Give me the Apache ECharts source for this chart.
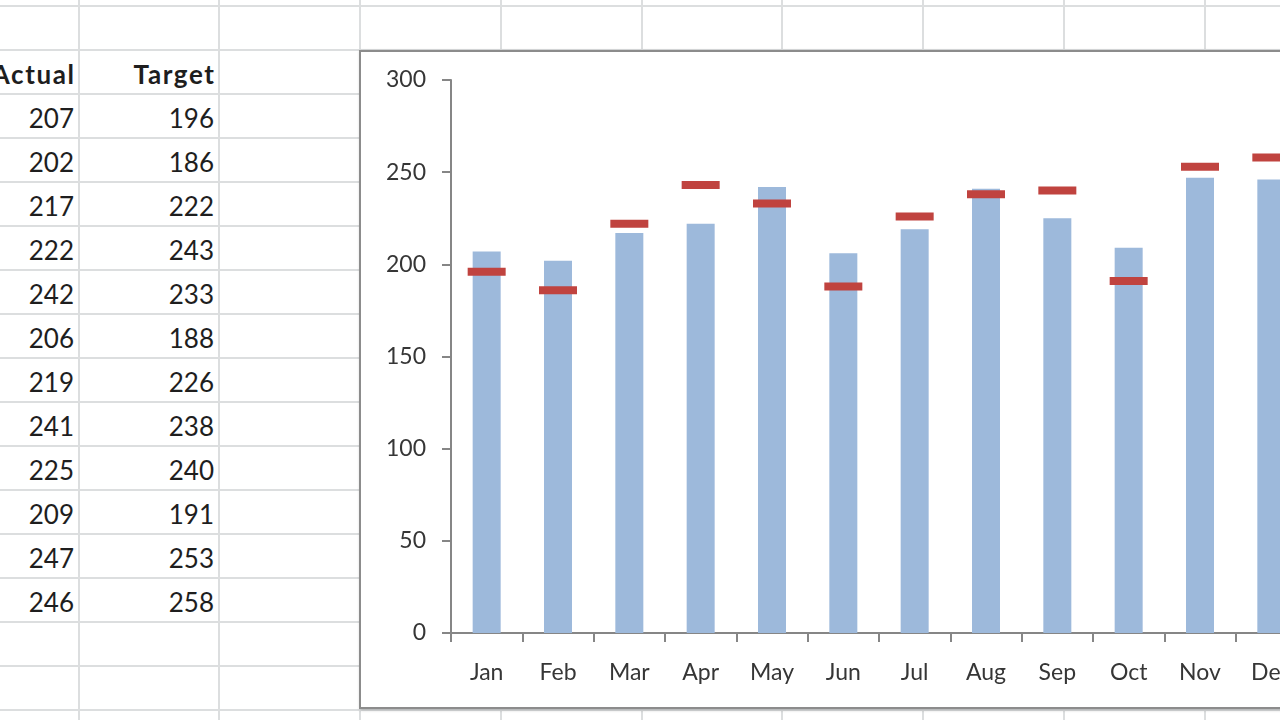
<!DOCTYPE html>
<html><head><meta charset="utf-8">
<script src="https://cdn.jsdelivr.net/npm/echarts@6/dist/echarts.min.js"></script>
<style>
html,body{margin:0;padding:0;width:1280px;height:720px;overflow:hidden;background:#fff;font-family:Lato,"Open Sans",sans-serif;}
#sheet{position:absolute;left:0;top:0;width:1280px;height:720px;overflow:hidden;}
.vl{position:absolute;top:0;height:720px;width:2px;background:#dcdedf;}
.hl{position:absolute;left:0;width:1280px;height:2px;background:#dcdedf;}
.cell{position:absolute;font-size:26px;color:#1e1e1e;text-align:right;line-height:44px;height:44px;white-space:nowrap;}
.hdr{font-weight:bold;letter-spacing:1.6px;margin-right:-1.6px;}
#chartBox{position:absolute;left:359px;top:50px;width:1000px;height:655px;border:2px solid #8c8c8c;background:#fff;box-shadow:1px 1px 3px rgba(0,0,0,0.25);}
#chart{width:1000px;height:655px;}
</style></head>
<body>
<div id="sheet"></div>
<div id="chartBox"><div id="chart"></div></div>
<script>
const months = ['Jan','Feb','Mar','Apr','May','Jun','Jul','Aug','Sep','Oct','Nov','Dec'];
const actual = [207,202,217,222,242,206,219,241,225,209,247,246];
const target = [196,186,222,243,233,188,226,238,240,191,253,258];
const headers = ['Actual','Target'];

// spreadsheet background
const sheet = document.getElementById('sheet');
const colLines = [79,219,360,501,642,782,923,1064,1205];
colLines.forEach(x=>{const d=document.createElement('div');d.className='vl';d.style.left=(x-1)+'px';sheet.appendChild(d);});
for(let y=6;y<720;y+=44){const d=document.createElement('div');d.className='hl';d.style.top=(y-1)+'px';sheet.appendChild(d);}
function cell(text,right,row,bold){
  const d=document.createElement('div');
  d.className='cell'+(bold?' hdr':'');
  d.textContent=text;
  d.style.right=(1280-right)+'px';
  d.style.top=(52+44*row)+'px';
  sheet.appendChild(d);
}
cell(headers[0],74,0,true);
cell(headers[1],214,0,true);
actual.forEach((v,i)=>cell(String(v),74,i+1,false));
target.forEach((v,i)=>cell(String(v),214,i+1,false));

// chart
const chart = echarts.init(document.getElementById('chart'));
const labelStyle = {color:'#363636',fontSize:23,fontFamily:'Lato, "Open Sans", sans-serif'};
chart.setOption({
  animation:false,
  backgroundColor:'#fff',
  grid:{left:90,top:28,width:856,height:553},
  xAxis:{
    type:'category',data:months,
    axisLine:{lineStyle:{color:'#868686',width:2}},
    axisTick:{show:true,length:9,lineStyle:{color:'#868686',width:2}},
    axisLabel:Object.assign({margin:28},labelStyle)
  },
  yAxis:{
    type:'value',min:0,max:300,interval:50,
    splitLine:{show:false},
    axisLine:{show:true,lineStyle:{color:'#868686',width:2}},
    axisTick:{show:true,length:9,lineStyle:{color:'#868686',width:2}},
    axisLabel:Object.assign({margin:25},labelStyle)
  },
  series:[
    {type:'bar',data:actual,barWidth:28,itemStyle:{color:'#9db9db'},z:2},
    {type:'scatter',data:target,symbol:'rect',symbolSize:[38,8],itemStyle:{color:'#c0433f',opacity:1},z:3}
  ]
});
</script>
</body></html>
